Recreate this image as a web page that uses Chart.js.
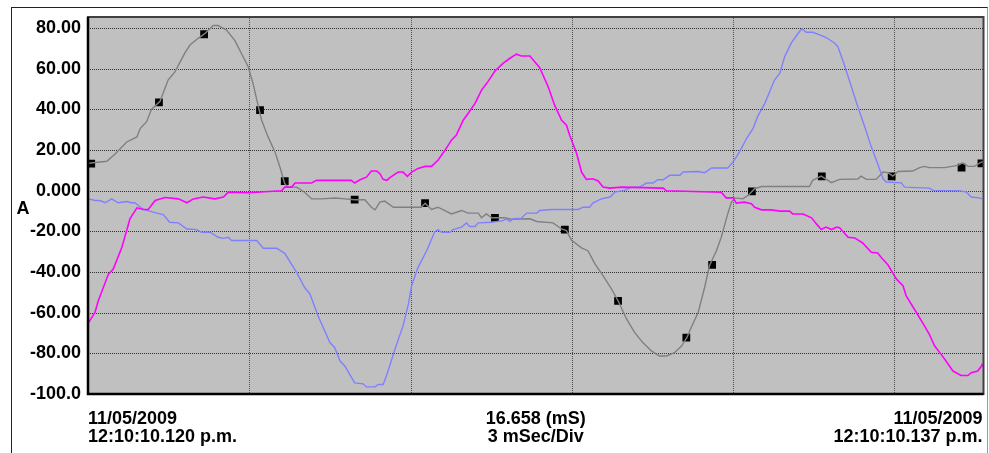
<!DOCTYPE html>
<html>
<head>
<meta charset="utf-8">
<script src="https://cdn.jsdelivr.net/npm/chart.js@4/dist/chart.umd.min.js"></script>
<style>
  html, body { margin: 0; padding: 0; background: #fff; }
  #wrap { position: relative; width: 989px; height: 453px; }
  #frame { position: absolute; left: 11px; top: 7px; width: 975px; height: 460px;
           border: 1px solid #222; border-bottom: none; border-right-color: #999; }
  canvas { position: absolute; left: 0; top: 0; }
</style>
</head>
<body>
<div id="wrap">
  <div id="frame"></div>
  <canvas id="scope" width="989" height="453"></canvas>
</div>
<script>
// time in ms, current in A
const grayT = [0.01, 0.35, 0.50, 0.72, 0.91, 0.97, 1.09, 1.18, 1.34, 1.49, 1.62, 1.80, 1.90, 2.05, 2.18, 2.33, 2.42, 2.58, 2.73,
  2.98, 3.07, 3.17, 3.23, 3.35, 3.48, 3.57, 3.66, 3.72, 3.88, 4.03, 4.16, 4.35, 4.59, 4.78, 4.96, 5.15, 5.27, 5.34, 5.43,
  5.52, 5.68, 6.20, 6.27, 6.39, 6.51, 6.61, 6.76, 6.95, 7.07, 7.26, 7.32, 7.41, 7.51, 7.75, 7.88, 8.22, 8.35, 8.65, 8.81,
  8.90, 8.99, 9.18, 9.30, 9.43, 9.58, 9.74, 9.86, 10.02, 10.17, 10.32, 10.48, 10.63, 10.76, 10.91, 11.04, 11.14, 11.22,
  11.35, 11.47, 11.56, 11.69, 11.78, 11.90, 11.97, 12.03, 12.18, 12.28, 12.40, 12.53, 13.42, 13.48, 13.64, 13.83, 13.98,
  14.32, 14.38, 14.48, 14.66, 14.79, 14.88, 14.97, 15.07, 15.34, 15.47, 15.56, 15.65, 15.93, 16.18, 16.27, 16.37, 16.49,
  16.62, 16.658];
const grayV = [13.5, 14.5, 18, 24, 26.5, 30.6, 34, 40, 44, 54.5, 58.6, 67.7, 71.8, 75, 77.5, 81.3, 81.3, 79, 74,
  61, 52.8, 41.3, 34.7, 26.5, 19, 11.7, 3.5, 1.8, 1.8, -0.7, -4, -4, -3.6, -4, -4.4, -4.4, -8.1, -9.4, -5.6,
  -5.1, -8.1, -8.1, -6.1, -9.2, -8.1, -9.4, -11.4, -9.7, -11, -11, -13.3, -11.4, -13.3, -13.3, -14, -13.8, -15.1, -15.8, -18.8,
  -19.6, -24.2, -28.1, -29.5, -36, -41.8, -48.4, -54.1, -63.2, -69.8, -74.7, -78.8, -81.3, -81.3, -79.7, -76.4, -72.3, -67.3,
  -59.9, -47.6, -36.9, -29.5, -22.9, -11.4, -5.6, -3.5, -4, -2.3, 1, 2.1, 2.1, 5.1, 7.2, 4, 5.6,
  5.8, 7.2, 5.6, 5.6, 9.2, 8.9, 7.2, 9.5, 9.7, 11.4, 12, 11.4, 11.4, 12.5, 13.7, 12, 12,
  14.2, 14];

const magT = [0.01, 0.13, 0.19, 0.38, 0.47, 0.63, 0.72, 0.78, 0.91, 1.03, 1.12, 1.25, 1.43, 1.68, 1.84, 1.96, 2.14, 2.36,
  2.52, 2.61, 2.97, 3.60, 3.66, 3.79, 3.85, 4.16, 4.25, 4.90, 4.96, 5.06, 5.18, 5.27, 5.37, 5.43, 5.49, 5.56, 5.61, 5.77,
  5.86, 5.94, 6.02, 6.14, 6.27, 6.39, 6.51, 6.64, 6.76, 6.85, 6.98, 7.07, 7.20, 7.32, 7.44, 7.57, 7.72, 7.85, 7.97, 8.06,
  8.22, 8.31, 8.40, 8.56, 8.68, 8.81, 8.90, 8.96, 9.09, 9.18, 9.27, 9.39, 9.49, 9.58, 9.71, 9.92, 10.70, 10.76, 11.78,
  11.87, 12.00, 12.06, 12.21, 12.34, 12.40, 12.53, 12.71, 12.87, 13.05, 13.11, 13.30, 13.46, 13.55, 13.64, 13.73, 13.83,
  13.93, 13.98, 14.14, 14.26, 14.41, 14.57, 14.69, 14.76, 14.88, 15.04, 15.16, 15.22, 15.41, 15.56, 15.65, 15.75, 15.87,
  15.96, 16.09, 16.24, 16.37, 16.43, 16.55, 16.62, 16.63];
const magV = [-64.9, -59.9, -54.2, -41, -38.5, -27.8, -19.6, -13.8, -8.4, -9.2, -9.2, -4.8, -3.3, -4, -5.9, -4, -3.1, -4,
  -3.1, -0.7, -1, 0, 1.8, 1.8, 3.8, 3.8, 5.1, 5.1, 3.8, 5.4, 6.7, 9.7, 9.7, 8.4, 5.6, 5.1, 6.3, 9.2,
  9.2, 7.1, 9.2, 11, 12, 12, 15, 19.9, 24.9, 27.3, 34.7, 38, 43, 49.5, 53.7, 58.9, 62.7, 65.2, 67.2, 66.3,
  66.3, 63.5, 60.7, 51.2, 42.1, 34.7, 32.3, 27.3, 18.3, 9.2, 5.6, 5.9, 4.8, 1.8, 1.3, 1.8, 1.3, 0, -0.7,
  -3.5, -3.5, -6.1, -5.6, -6.4, -8.1, -9.4, -9.4, -10, -10, -11.4, -11.4, -13.3, -16.3, -19.1, -17.9, -19.1,
  -17.9, -18.2, -22.9, -23.2, -25.7, -30.3, -30.6, -33, -36.4, -43.5, -46.7, -51.7, -59.9, -66.5, -70.6, -76.4, -80.5,
  -83.8, -88.7, -90.9, -90.9, -89.5, -88.7, -86.3, -85];

const blueT = [0.01, 0.13, 0.22, 0.32, 0.44, 0.56, 0.72, 0.81, 0.87, 1.03, 1.15, 1.28, 1.40, 1.52, 1.68, 1.84, 2.02, 2.11,
  2.27, 2.42, 2.52, 2.61, 2.67, 3.14, 3.26, 3.51, 3.66, 3.88, 4.03, 4.13, 4.28, 4.50, 4.59, 4.69, 4.78, 4.96, 5.12, 5.18,
  5.34, 5.40, 5.49, 5.56, 5.71, 5.86, 5.96, 6.02, 6.14, 6.30, 6.45, 6.51, 6.58, 6.73, 6.79, 6.95, 7.04, 7.10, 7.20, 7.26,
  7.51, 7.72, 7.78, 7.85, 7.91, 8.06, 8.16, 8.35, 8.40, 8.62, 8.93, 9.12, 9.21, 9.33, 9.39, 9.55, 9.71, 9.80, 9.98, 10.11,
  10.26, 10.39, 10.51, 10.60, 10.70, 10.82, 11.01, 11.07, 11.35, 11.47, 11.60, 11.90, 12.00, 12.12, 12.25, 12.37, 12.46,
  12.59, 12.68, 12.77, 12.87, 12.96, 13.08, 13.21, 13.28, 13.36, 13.48, 13.61, 13.73, 13.83, 13.89, 13.95, 14.07, 14.20,
  14.32, 14.45, 14.57, 14.69, 14.79, 14.85, 15.13, 15.19, 15.65, 15.72, 16.21, 16.34, 16.43, 16.58, 16.63];
const blueV = [-4, -4.8, -4.8, -5.9, -4, -5.9, -5.3, -5.9, -5.9, -9.2, -10, -11, -11.7, -15.5, -15.8, -18.8, -19.1, -20.4,
  -20.4, -22.9, -23.4, -22.9, -24.5, -24.5, -28.3, -28.3, -30.8, -40.2, -47.6, -50.9, -61.6, -74.7, -77.2, -83.8, -86.3, -94.5, -95, -96.5,
  -96.5, -95.3, -95.3, -90.4, -78, -66.5, -55.8, -46.7, -37.7, -29.5, -20.1, -19.1, -20.4, -20.4, -19.1, -17.9, -15.8, -17.6, -17.6, -15.8,
  -15.5, -14.7, -13.8, -15.1, -13.8, -13.5, -11, -11, -9.7, -9.2, -9.2, -9.2, -8.1, -8.1, -6.1, -4, -3.1, -0.7, 0.2, 1.8,
  1.8, 3.8, 3.8, 5.4, 5.4, 7.6, 7.6, 9.2, 9.5, 8.9, 11.2, 11.2, 14.2, 19.1, 25.7, 30.6, 36.7,
  43, 48.7, 54.5, 57.8, 66, 72.6, 77.5, 79.7, 78, 78, 76.7, 75.4, 73.7, 72.6, 70.9, 61.9, 51.2,
  41.3, 31.4, 21.6, 13.3, 5.9, 4.3, 3.9, 1.8, 1.3, 0.2, 0, -0.7, -3.1, -3.5, -4];

// square markers sitting on the gray trace
const markT = [0.06, 1.32, 2.16, 3.20, 3.66, 4.96, 6.27, 7.57, 8.87, 9.86, 11.13, 11.61, 12.35, 13.65, 14.95, 16.25, 16.62];
const markV = [13.3, 43.5, 77, 39.7, 4.7, -4.4, -6.1, -13.3, -19.1, -54.2, -72.3, -36.5, -0.3, 7.1, 7.1, 11.4, 13.5];

const yTickValues = [-100, -80, -60, -40, -20, 0, 20, 40, 60, 80];
const yTickLabels = ["-100.0", "-80.00", "-60.00", "-40.00", "-20.00", "0.000", "20.00", "40.00", "60.00", "80.00"];
const xGridValues = [3, 6, 9, 12, 15];

const totalMs = 16.658;
const bottomText = {
  left: ["11/05/2009", "12:10:10.120 p.m."],
  mid: [totalMs.toFixed(3) + " (mS)", "3 mSec/Div"],
  right: ["11/05/2009", "12:10:10.137 p.m."]
};

function pts(t, v) {
  return t.map((x, i) => ({ x: x, y: v[i] }));
}

const FONT = 'bold 18px "Liberation Sans", Arial, sans-serif';

const decor = {
  id: "decor",
  beforeDatasetsDraw(chart) {
    const a = chart.chartArea, c = chart.ctx;
    c.save();
    c.fillStyle = "#c0c0c0";
    c.fillRect(a.left, a.top, a.right - a.left, a.bottom - a.top);
    c.lineWidth = 1;
    c.setLineDash([1, 1]);
    c.strokeStyle = "#303030";
    const ys = chart.scales.y;
    yTickValues.forEach(v => {
      const y = Math.round(ys.getPixelForValue(v)) + 0.5;
      c.beginPath(); c.moveTo(a.left, y); c.lineTo(a.right, y); c.stroke();
    });
    c.strokeStyle = "#505050";
    const xs = chart.scales.x;
    xGridValues.forEach(v => {
      const x = Math.round(xs.getPixelForValue(v)) + 0.5;
      c.beginPath(); c.moveTo(x, a.top); c.lineTo(x, a.bottom); c.stroke();
    });
    c.restore();
  },
  afterDraw(chart) {
    const a = chart.chartArea, c = chart.ctx;
    c.save();
    c.lineWidth = 2;
    c.strokeStyle = "#404040";
    c.strokeRect(a.left, a.top - 1, a.right - a.left, a.bottom - a.top + 1);
    c.strokeStyle = "#000";
    c.lineWidth = 2.5;
    c.beginPath();
    c.moveTo(a.left, a.top - 1); c.lineTo(a.left, a.bottom); c.lineTo(a.right, a.bottom);
    c.stroke();

    c.fillStyle = "#000";
    c.font = FONT;
    c.textBaseline = "alphabetic";
    c.textAlign = "center";
    c.fillText("A", 23, 214);
    const y1 = 424, y2 = 442;
    c.textAlign = "left";
    c.fillText(bottomText.left[0], a.left, y1);
    c.fillText(bottomText.left[1], a.left, y2);
    c.textAlign = "center";
    const mid = (a.left + a.right) / 2;
    c.fillText(bottomText.mid[0], mid, y1);
    c.fillText(bottomText.mid[1], mid, y2);
    c.textAlign = "right";
    c.fillText(bottomText.right[0], a.right - 1, y1);
    c.fillText(bottomText.right[1], a.right - 1, y2);
    c.restore();
  }
};

const chart = new Chart(document.getElementById("scope"), {
  type: "line",
  data: {
    datasets: [
      { data: pts(magT, magV), borderColor: "#ff00ff", borderWidth: 1.6, pointRadius: 0 },
      { data: pts(blueT, blueV), borderColor: "#8080ff", borderWidth: 1.4, pointRadius: 0 },
      { data: pts(grayT, grayV), borderColor: "#808080", borderWidth: 1.4, pointRadius: 0 },
      { data: pts(markT, markV), showLine: false, pointStyle: "rect", pointRadius: 5.5,
        pointBackgroundColor: "#000", pointBorderColor: "#000", pointBorderWidth: 0 }
    ]
  },
  options: {
    responsive: false,
    animation: false,
    events: [],
    layout: { padding: { left: 0, top: 18, right: 5, bottom: 59 } },
    plugins: { legend: { display: false }, tooltip: { enabled: false } },
    elements: { line: { tension: 0, fill: false } },
    scales: {
      x: {
        type: "linear", min: 0, max: totalMs,
        grid: { display: false, drawTicks: false },
        border: { display: false },
        ticks: { display: false },
        afterFit(s) { s.height = 0; }
      },
      y: {
        min: -100, max: 85,
        grid: { display: false, drawTicks: false },
        border: { display: false },
        afterBuildTicks(s) { s.ticks = yTickValues.map(v => ({ value: v })); },
        afterFit(s) { s.width = 88; },
        ticks: {
          padding: 7,
          color: "#000",
          font: { family: '"Liberation Sans", Arial, sans-serif', size: 18, weight: "bold" },
          callback: v => yTickLabels[yTickValues.indexOf(v)]
        }
      }
    }
  },
  plugins: [decor]
});
</script>
</body>
</html>
